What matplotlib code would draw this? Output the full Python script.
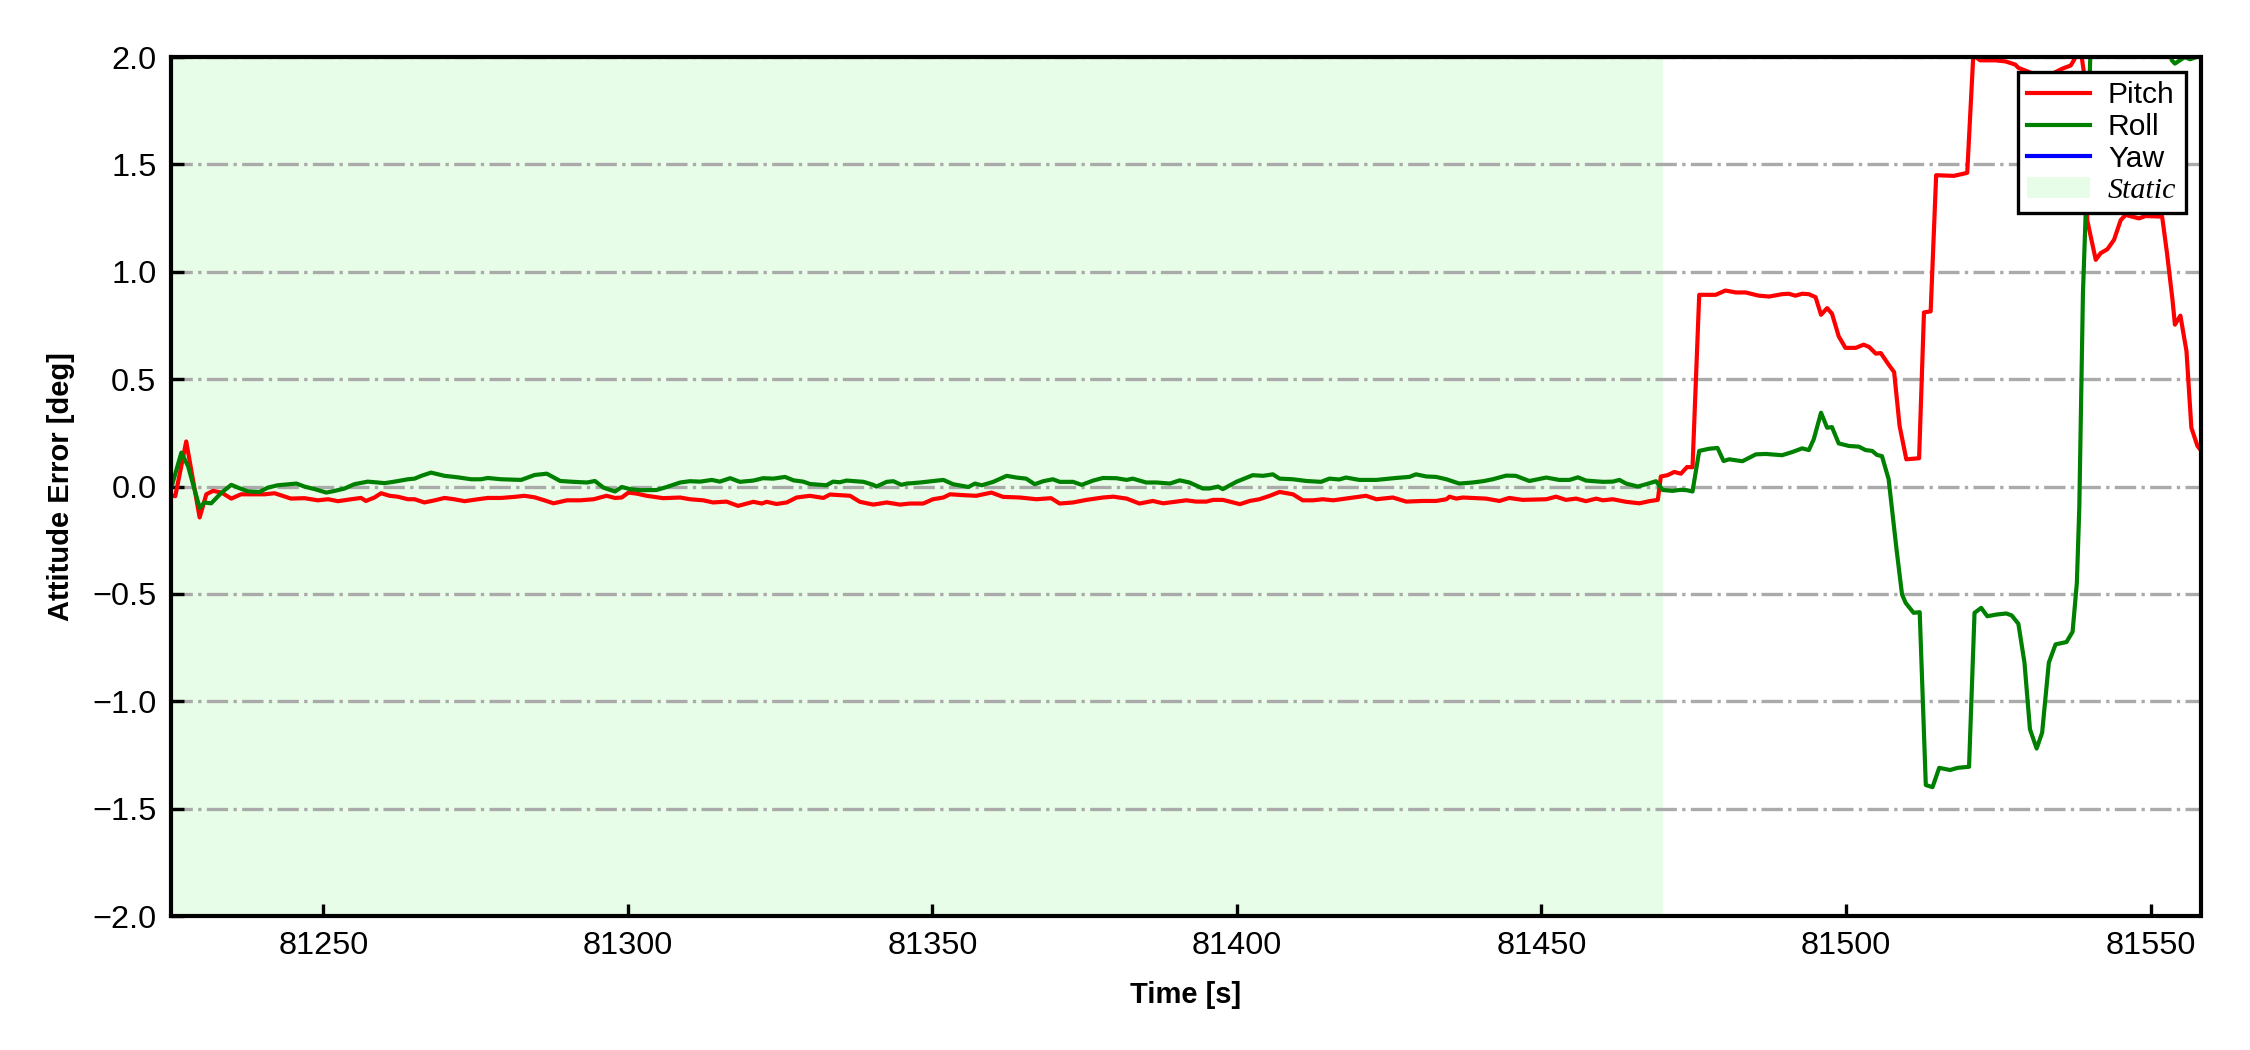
import matplotlib
matplotlib.use('Agg')
import matplotlib.pyplot as plt
from matplotlib.patches import Patch
from matplotlib.lines import Line2D

# pitch error (deg)
pitch_t = [81225.0, 81225.7, 81227.5, 81229.7, 81230.8, 81231.9, 81233.3, 81234.9, 81236.5, 81238.7,
           81240.4, 81242.0, 81244.7, 81246.9, 81249.1, 81250.8, 81252.4, 81254.6, 81256.2, 81257.0,
           81258.4, 81259.5, 81260.9, 81262.2, 81263.9, 81265.0, 81266.6, 81268.3, 81269.9, 81271.5,
           81273.2, 81275.4, 81277.0, 81279.2, 81281.4, 81283.0, 81284.7, 81286.3, 81287.8, 81290.0,
           81292.2, 81294.4, 81296.5, 81297.9, 81299.0, 81300.1, 81301.5, 81303.1, 81305.8, 81308.6,
           81310.2, 81312.4, 81314.0, 81316.2, 81318.1, 81320.6, 81322.0, 81322.8, 81324.4, 81326.1,
           81327.7, 81329.9, 81332.1, 81333.2, 81334.8, 81336.5, 81338.1, 81340.3, 81342.5, 81344.7,
           81346.3, 81348.5, 81350.1, 81351.8, 81352.9, 81355.1, 81357.2, 81359.7, 81361.6, 81364.4,
           81367.1, 81369.5, 81370.9, 81373.1, 81375.3, 81378.0, 81379.7, 81381.9, 81384.0, 81386.2,
           81387.9, 81390.1, 81391.7, 81393.3, 81395.0, 81396.1, 81397.7, 81399.4, 81400.5, 81402.1,
           81403.7, 81405.4, 81407.0, 81409.2, 81410.8, 81412.5, 81414.1, 81415.8, 81417.9, 81421.2,
           81422.9, 81425.6, 81427.8, 81430.5, 81432.7, 81434.4, 81434.9, 81436.0, 81437.1, 81440.9,
           81443.1, 81444.7, 81446.9, 81450.8, 81452.4, 81454.0, 81455.7, 81457.3, 81459.0, 81460.1,
           81461.7, 81463.9, 81466.1, 81467.7, 81469.1, 81469.6, 81470.7, 81471.8, 81472.9, 81473.9,
           81474.8, 81475.9, 81478.6, 81480.2, 81481.9, 81483.5, 81485.7, 81487.4, 81489.5, 81490.6,
           81491.7, 81492.8, 81493.9, 81495.0, 81495.9, 81496.9, 81497.7, 81498.8, 81499.9, 81501.6,
           81502.9, 81503.8, 81504.9, 81505.7, 81507.0, 81507.9, 81508.8, 81509.9, 81512.0, 81512.8,
           81513.9, 81514.8, 81517.7, 81519.9, 81520.9, 81522.0, 81524.5, 81526.2, 81527.8, 81528.3,
           81531.0, 81533.9, 81535.5, 81536.9, 81537.4, 81538.2, 81538.7, 81539.1, 81539.6, 81541.0,
           81541.8, 81542.9, 81544.0, 81545.1, 81545.9, 81548.1, 81549.2, 81551.9, 81552.7, 81553.6,
           81554.0, 81554.9, 81555.9, 81556.7, 81557.7, 81558.5]
pitch_v = [-0.040, -0.045, 0.210, -0.144, -0.036, -0.020, -0.028, -0.056, -0.036, -0.036,
           -0.036, -0.031, -0.056, -0.054, -0.064, -0.059, -0.068, -0.059, -0.053, -0.067,
           -0.051, -0.031, -0.043, -0.047, -0.059, -0.059, -0.074, -0.064, -0.053, -0.059,
           -0.068, -0.059, -0.053, -0.053, -0.048, -0.043, -0.050, -0.064, -0.078, -0.064,
           -0.064, -0.059, -0.043, -0.053, -0.051, -0.028, -0.033, -0.043, -0.054, -0.051,
           -0.059, -0.064, -0.074, -0.070, -0.090, -0.071, -0.079, -0.071, -0.081, -0.074,
           -0.051, -0.043, -0.053, -0.037, -0.040, -0.043, -0.071, -0.084, -0.074, -0.084,
           -0.079, -0.079, -0.059, -0.051, -0.036, -0.040, -0.043, -0.028, -0.048, -0.051,
           -0.059, -0.054, -0.079, -0.074, -0.062, -0.051, -0.047, -0.056, -0.079, -0.067,
           -0.078, -0.070, -0.064, -0.070, -0.070, -0.062, -0.062, -0.074, -0.082, -0.067,
           -0.059, -0.043, -0.025, -0.036, -0.064, -0.064, -0.059, -0.064, -0.056, -0.043,
           -0.059, -0.051, -0.070, -0.067, -0.067, -0.059, -0.047, -0.056, -0.051, -0.056,
           -0.067, -0.053, -0.062, -0.059, -0.047, -0.062, -0.056, -0.068, -0.056, -0.064,
           -0.059, -0.071, -0.078, -0.068, -0.062, 0.047, 0.053, 0.068, 0.060, 0.091,
           0.090, 0.893, 0.893, 0.913, 0.904, 0.904, 0.889, 0.885, 0.896, 0.898,
           0.889, 0.898, 0.896, 0.882, 0.800, 0.831, 0.805, 0.700, 0.646, 0.646,
           0.661, 0.650, 0.619, 0.622, 0.568, 0.533, 0.282, 0.127, 0.132, 0.811,
           0.816, 1.450, 1.447, 1.461, 2.010, 1.985, 1.985, 1.980, 1.965, 1.950,
           1.920, 1.923, 1.946, 1.961, 1.985, 2.030, 2.000, 1.920, 1.241, 1.056,
           1.087, 1.105, 1.149, 1.241, 1.265, 1.249, 1.260, 1.257, 1.087, 0.870,
           0.754, 0.796, 0.630, 0.274, 0.189, 0.160]

# roll error (deg)
roll_t = [81225.0, 81226.7, 81227.8, 81229.7, 81230.5, 81231.6, 81233.3, 81234.9, 81236.0, 81237.6,
          81239.5, 81240.9, 81242.5, 81245.6, 81246.9, 81248.6, 81250.5, 81251.9, 81253.5, 81255.1,
          81257.3, 81260.1, 81261.7, 81263.9, 81265.0, 81266.1, 81267.7, 81269.9, 81272.1, 81274.3,
          81275.9, 81277.0, 81279.2, 81282.5, 81284.7, 81286.7, 81288.9, 81291.1, 81293.3, 81294.6,
          81296.0, 81297.9, 81299.0, 81300.4, 81302.0, 81304.7, 81306.4, 81308.6, 81310.2, 81311.9,
          81313.8, 81315.1, 81316.8, 81318.4, 81320.6, 81322.2, 81323.9, 81325.8, 81327.2, 81328.8,
          81329.9, 81332.6, 81333.7, 81334.8, 81335.9, 81338.7, 81340.3, 81340.8, 81342.5, 81343.6,
          81344.9, 81345.8, 81348.0, 81351.8, 81353.4, 81355.9, 81357.0, 81358.1, 81360.0, 81362.2,
          81363.8, 81365.4, 81366.8, 81368.2, 81369.8, 81370.9, 81373.1, 81374.5, 81376.4, 81378.0,
          81380.2, 81381.9, 81382.9, 81385.1, 81386.8, 81389.0, 81390.6, 81392.2, 81394.4, 81395.5,
          81396.9, 81397.7, 81399.9, 81402.6, 81404.3, 81405.9, 81407.0, 81409.2, 81411.4, 81413.8,
          81415.2, 81416.8, 81417.9, 81420.1, 81422.9, 81426.1, 81428.3, 81429.4, 81431.1, 81432.7,
          81434.4, 81436.5, 81438.7, 81440.4, 81442.0, 81444.2, 81445.8, 81448.0, 81450.8, 81452.9,
          81454.6, 81456.0, 81457.3, 81460.1, 81461.7, 81462.8, 81463.9, 81465.8, 81467.2, 81468.8,
          81469.9, 81471.5, 81472.9, 81473.9, 81474.8, 81475.9, 81477.5, 81478.9, 81479.9, 81480.8,
          81483.0, 81485.2, 81486.8, 81489.5, 81491.2, 81492.8, 81493.9, 81494.7, 81495.9, 81496.9,
          81497.7, 81498.8, 81500.5, 81502.1, 81503.2, 81504.3, 81505.1, 81505.9, 81507.0, 81508.3,
          81509.2, 81509.8, 81511.1, 81512.1, 81513.1, 81514.2, 81515.3, 81517.1, 81518.3, 81520.2,
          81521.1, 81522.2, 81523.2, 81524.7, 81526.3, 81527.2, 81528.3, 81529.3, 81530.2, 81531.3,
          81532.2, 81533.3, 81534.4, 81536.2, 81537.2, 81537.9, 81538.3, 81538.9, 81539.5, 81540.1,
          81542.0, 81546.0, 81550.0, 81553.0, 81553.5, 81554.0, 81554.8, 81555.6, 81556.5, 81558.5]
roll_v = [-0.010, 0.158, 0.095, -0.099, -0.074, -0.078, -0.028, 0.008, -0.005, -0.022,
          -0.025, -0.005, 0.006, 0.014, 0.000, -0.012, -0.028, -0.020, -0.009, 0.011,
          0.023, 0.016, 0.023, 0.034, 0.037, 0.050, 0.065, 0.050, 0.043, 0.034,
          0.034, 0.040, 0.034, 0.031, 0.054, 0.060, 0.026, 0.022, 0.019, 0.026,
          -0.005, -0.023, -0.002, -0.012, -0.017, -0.016, -0.002, 0.019, 0.025, 0.023,
          0.031, 0.023, 0.039, 0.022, 0.028, 0.039, 0.037, 0.045, 0.029, 0.023,
          0.012, 0.006, 0.023, 0.020, 0.028, 0.022, 0.008, 0.000, 0.022, 0.025,
          0.008, 0.014, 0.019, 0.031, 0.011, -0.002, 0.014, 0.006, 0.022, 0.050,
          0.042, 0.037, 0.011, 0.025, 0.034, 0.022, 0.022, 0.008, 0.028, 0.040,
          0.039, 0.031, 0.037, 0.019, 0.019, 0.014, 0.029, 0.019, -0.009, -0.009,
          0.000, -0.012, 0.022, 0.053, 0.050, 0.057, 0.037, 0.034, 0.026, 0.022,
          0.037, 0.033, 0.042, 0.031, 0.031, 0.040, 0.045, 0.057, 0.047, 0.045,
          0.034, 0.014, 0.019, 0.025, 0.034, 0.051, 0.050, 0.026, 0.042, 0.031,
          0.031, 0.043, 0.028, 0.022, 0.023, 0.031, 0.014, 0.000, 0.011, 0.025,
          -0.016, -0.020, -0.015, -0.017, -0.023, 0.166, 0.176, 0.180, 0.119, 0.127,
          0.118, 0.150, 0.152, 0.146, 0.161, 0.178, 0.170, 0.220, 0.344, 0.274,
          0.277, 0.201, 0.189, 0.186, 0.170, 0.166, 0.147, 0.142, 0.034, -0.294,
          -0.503, -0.542, -0.588, -0.585, -1.390, -1.400, -1.310, -1.320, -1.310, -1.305,
          -0.588, -0.565, -0.604, -0.596, -0.591, -0.600, -0.639, -0.820, -1.130, -1.220,
          -1.146, -0.820, -0.735, -0.724, -0.676, -0.449, -0.100, 0.900, 1.400, 2.000,
          2.300, 2.500, 2.300, 2.050, 1.985, 1.970, 1.985, 2.000, 1.990, 2.010]

# yaw error never enters the plotted range, only its legend entry shows
yaw_t = []
yaw_v = []

static_start = 81200.0
static_end = 81470.0
x_lim = (81225.0, 81558.2)
y_lim = (-2.0, 2.0)
x_ticks = [81250, 81300, 81350, 81400, 81450, 81500, 81550]
y_ticks = [-2.0, -1.5, -1.0, -0.5, 0.0, 0.5, 1.0, 1.5, 2.0]

plt.rcParams['font.family'] = ['Liberation Sans', 'DejaVu Sans']
plt.rcParams['axes.linewidth'] = 1.0

fig = plt.figure(figsize=(7.5, 3.5), dpi=300)
ax = fig.add_axes([0.076, 0.1276, 0.902, 0.818])

ax.axvspan(static_start, static_end, color='#e8fde8', lw=0, zorder=0)
ax.plot(pitch_t, pitch_v, color='r', lw=1.0)
ax.plot(roll_t, roll_v, color='g', lw=1.0)
ax.plot(yaw_t, yaw_v, color='b', lw=1.0)

ax.set_xlim(x_lim)
ax.set_ylim(y_lim)
ax.set_xticks(x_ticks)
ax.set_yticks(y_ticks)
ax.tick_params(direction='in', length=3, width=0.8, labelsize=7.8, pad=3.5)
ax.yaxis.grid(True, linestyle='-.', color='#aaaaaa', lw=0.8)

ax.set_xlabel('Time [s]', fontsize=7, fontweight='bold', labelpad=5)
ax.set_ylabel('Attitude Error [deg]', fontsize=7, fontweight='bold', labelpad=4)

handles = [Line2D([], [], color='r', lw=1.0),
           Line2D([], [], color='g', lw=1.0),
           Line2D([], [], color='b', lw=1.0),
           Patch(facecolor='#e8fde8', edgecolor='none')]
leg = ax.legend(handles, ['Pitch', 'Roll', 'Yaw', 'Static'], loc='upper right',
                fontsize=7.2, fancybox=False, framealpha=1, edgecolor='k',
                labelspacing=0.13, borderpad=0.3, handlelength=2.1, handletextpad=0.6)
leg.get_frame().set_linewidth(0.8)
st = leg.get_texts()[3]
st.set_fontfamily('Liberation Serif')
st.set_fontstyle('italic')

fig.savefig('out.png', dpi=300)
